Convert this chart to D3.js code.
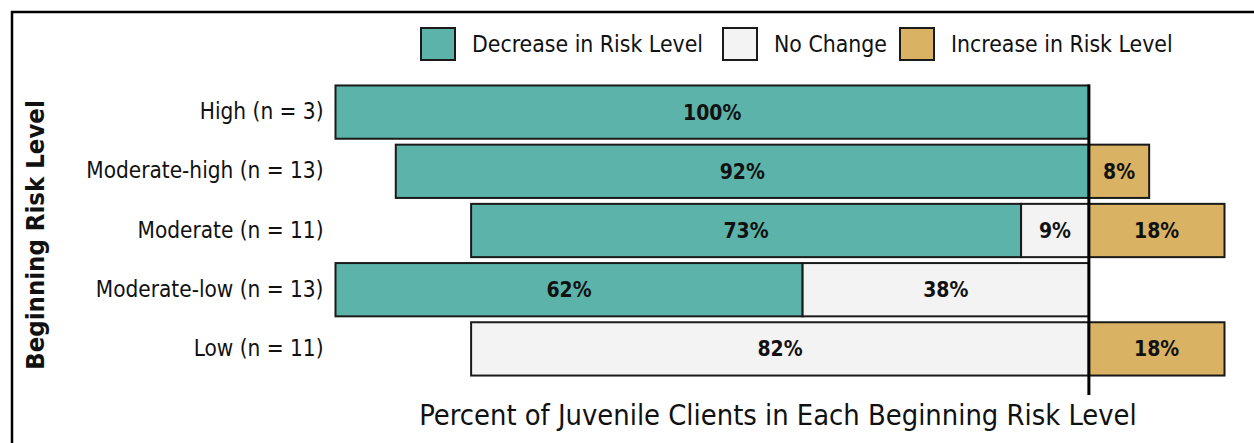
<!DOCTYPE html>
<html>
<head>
<meta charset="utf-8">
<script src="https://cdn.jsdelivr.net/npm/d3@7"></script>
<style>
  html, body { margin: 0; padding: 0; background: #fff; }
  svg { display: block; font-family: "DejaVu Sans Condensed", "DejaVu Sans", sans-serif; font-stretch: condensed; }
</style>
</head>
<body>
<svg id="chart" width="1254" height="443"></svg>
<script>
// Beginning risk level groups
const categories = [
  "High (n = 3)",
  "Moderate-high (n = 13)",
  "Moderate (n = 11)",
  "Moderate-low (n = 13)",
  "Low (n = 11)"
];
// Percent of clients in each group by change in risk level
const decrease = [100, 92, 73, 62, 0];
const noChange = [0, 0, 9, 38, 82];
const increase = [0, 8, 18, 0, 18];

const seriesNames = ["Decrease in Risk Level", "No Change", "Increase in Risk Level"];
const seriesColors = ["#5bb3aa", "#f3f3f3", "#d9b263"];

const svg = d3.select("#chart");
const W = 1254, H = 443;

// Frame
svg.append("line").attr("x1", 11).attr("x2", W).attr("y1", 12).attr("y2", 12)
  .attr("stroke", "#000").attr("stroke-width", 2.5);
svg.append("line").attr("x1", 12).attr("x2", 12).attr("y1", 11).attr("y2", H)
  .attr("stroke", "#000").attr("stroke-width", 2.5);

const x = d3.scaleLinear().domain([-100, 18]).range([335.5, 1224.5]);
const y = d3.scaleBand().domain(categories).range([82.5, 378.5])
  .paddingInner(0.1).paddingOuter(0.05);

// Build segments: decrease and no change extend left of zero, increase to the right
const segments = [];
categories.forEach((c, i) => {
  const nc = noChange[i], dec = decrease[i], inc = increase[i];
  if (dec > 0) segments.push({ cat: c, s: 0, v: dec, x0: -(dec + nc), x1: -nc });
  if (nc > 0) segments.push({ cat: c, s: 1, v: nc, x0: -nc, x1: 0 });
  if (inc > 0) segments.push({ cat: c, s: 2, v: inc, x0: 0, x1: inc });
});

const bars = svg.append("g");
bars.selectAll("rect").data(segments).join("rect")
  .attr("x", d => x(d.x0))
  .attr("y", d => y(d.cat))
  .attr("width", d => x(d.x1) - x(d.x0))
  .attr("height", y.bandwidth())
  .attr("fill", d => seriesColors[d.s])
  .attr("stroke", "#1a1a1a")
  .attr("stroke-width", 2);

bars.selectAll("text").data(segments).join("text")
  .attr("x", d => (x(d.x0) + x(d.x1)) / 2)
  .attr("y", d => y(d.cat) + y.bandwidth() / 2)
  .attr("dy", "0.36em")
  .attr("text-anchor", "middle")
  .attr("font-weight", "bold")
  .attr("font-size", 21)
  .attr("fill", "#111")
  .text(d => d.v + "%");

// Zero line
svg.append("line")
  .attr("x1", x(0)).attr("x2", x(0))
  .attr("y1", y.range()[0] + 2).attr("y2", 395)
  .attr("stroke", "#000").attr("stroke-width", 3);

// Category axis (labels only)
const yAxis = svg.append("g")
  .attr("transform", `translate(${x(-100) - 12},0)`)
  .call(d3.axisLeft(y).tickSize(0).tickPadding(0));
yAxis.attr("font-family", null).attr("font-size", null);
yAxis.select(".domain").remove();
yAxis.selectAll("text")
  .attr("font-size", 22.4)
  .attr("fill", "#111");

// Axis titles
svg.append("text")
  .attr("transform", `translate(44,${235}) rotate(-90)`)
  .attr("text-anchor", "middle")
  .attr("font-size", 25.5)
  .attr("font-weight", "bold")
  .attr("fill", "#111")
  .text("Beginning Risk Level");

svg.append("text")
  .attr("x", 778).attr("y", 425)
  .attr("text-anchor", "middle")
  .attr("font-size", 28.8)
  .attr("fill", "#111")
  .text("Percent of Juvenile Clients in Each Beginning Risk Level");

// Legend
const legendItems = [
  { name: seriesNames[0], color: seriesColors[0], x: 421 },
  { name: seriesNames[1], color: seriesColors[1], x: 723 },
  { name: seriesNames[2], color: seriesColors[2], x: 900 }
];
const lg = svg.append("g").selectAll("g").data(legendItems).join("g")
  .attr("transform", d => `translate(${d.x},28)`);
lg.append("rect").attr("width", 34).attr("height", 32)
  .attr("fill", d => d.color).attr("stroke", "#1a1a1a").attr("stroke-width", 2);
lg.append("text").attr("x", 51).attr("y", 16).attr("dy", "0.36em")
  .attr("font-size", 22.8).attr("fill", "#111")
  .text(d => d.name);
</script>
</body>
</html>
